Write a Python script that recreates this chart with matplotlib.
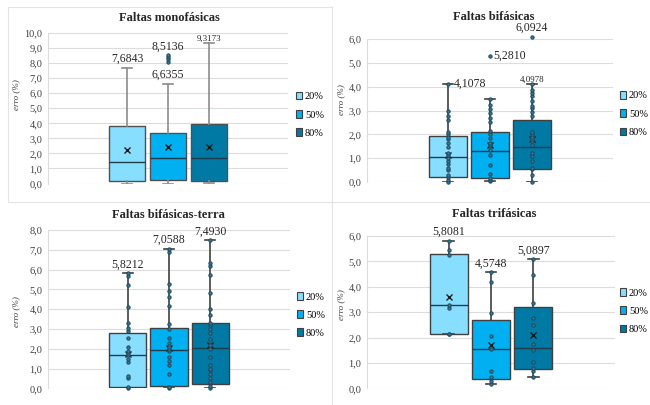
import matplotlib.pyplot as plt
from matplotlib.patches import Patch
from matplotlib.lines import Line2D
import numpy as np

plt.rcParams['font.family'] = ['Liberation Serif', 'DejaVu Serif']

series = ['20%', '50%', '80%']
colors = ['#87DEFF', '#00B0F0', '#007AA5']

# --- Faltas monofásicas
mono_lo = [0.0, 0.0, 0.05]
mono_q1 = [0.17, 0.21, 0.19]
mono_med = [1.45, 1.72, 1.72]
mono_q3 = [3.81, 3.34, 3.95]
mono_hi = [7.6843, 6.6355, 9.3173]
mono_mean = [2.25, 2.43, 2.43]
mono_pts = [[], [8.1, 8.25, 8.4, 8.5136], []]

# --- Faltas bifásicas
bif_lo = [0.0, 0.05, 0.0]
bif_q1 = [0.2, 0.15, 0.55]
bif_med = [1.05, 1.3, 1.48]
bif_q3 = [1.95, 2.1, 2.62]
bif_hi = [4.1078, 3.5, 4.0978]
bif_mean = [1.15, 1.55, 1.8]
bif_pts = [
    [0.0, 0.1, 0.2, 0.3, 0.5, 0.6, 0.75, 0.9, 1.0, 1.15, 1.2, 1.45, 1.65,
     1.8, 1.9, 2.0, 2.1, 2.6, 2.75, 3.0, 4.1078],
    [0.05, 0.1, 0.15, 0.35, 0.7, 1.15, 1.35, 1.5, 1.55, 1.65, 1.85, 2.0,
     2.15, 2.5, 2.7, 2.9, 3.05, 3.25, 3.5, 5.281],
    [0.0, 0.3, 0.55, 0.6, 0.9, 1.1, 1.2, 1.55, 1.7, 1.8, 1.9, 2.0, 2.1,
     2.75, 2.95, 3.1, 3.2, 3.4, 3.6, 3.75, 3.85, 4.0978, 6.0924],
]

# --- Faltas bifásicas-terra
bt_lo = [0.0, 0.0, 0.0]
bt_q1 = [0.05, 0.1, 0.2]
bt_med = [1.7, 1.95, 2.05]
bt_q3 = [2.8, 3.05, 3.3]
bt_hi = [5.8212, 7.0588, 7.4930]
bt_mean = [1.75, 2.05, 2.2]
bt_pts = [
    [0.0, 0.05, 0.5, 0.6, 1.35, 1.5, 1.7, 1.8, 1.9, 2.1, 2.55, 2.9, 3.05,
     3.3, 4.1, 5.2, 5.7, 5.8212],
    [0.0, 0.05, 0.7, 1.2, 1.4, 1.6, 1.9, 2.0, 2.1, 2.3, 2.55, 3.0, 3.25,
     4.15, 4.6, 4.9, 5.25, 6.9, 7.0588],
    [0.0, 0.1, 0.3, 0.5, 0.7, 0.9, 1.0, 1.2, 1.6, 2.0, 2.2, 2.5, 2.8, 3.0,
     3.2, 3.3, 3.7, 4.0, 4.8, 5.75, 6.2, 6.35, 7.493],
]

# --- Faltas trifásicas
tri_lo = [2.15, 0.15, 0.45]
tri_q1 = [2.15, 0.38, 0.78]
tri_med = [3.27, 1.53, 1.6]
tri_q3 = [5.3, 2.7, 3.2]
tri_hi = [5.8081, 4.5748, 5.0897]
tri_mean = [3.6, 1.72, 2.1]
tri_pts = [
    [2.15, 2.15, 3.15, 3.3, 5.25, 5.45, 5.8081],
    [0.15, 0.3, 0.45, 0.7, 1.55, 2.05, 2.95, 4.2, 4.5748],
    [0.45, 0.7, 0.8, 1.05, 1.5, 1.75, 2.5, 2.75, 3.35, 4.45, 5.0897],
]

W, H = 650, 405
fig = plt.figure(figsize=(6.5, 4.05), dpi=100)


def px_axes(left, right, bottom, top):
    return fig.add_axes([left / W, 1 - bottom / H, (right - left) / W, (bottom - top) / H])


def fmt(v, d=1):
    return f'{v:.{d}f}'.replace('.', ',')


def draw_panel(ax, lo, q1, med, q3, hi, mean, pts, ymax, title, tpos, ylab_pos,
               leg_pos, wcol='#404040', ecol='#404040'):
    pos = [1, 2, 3]
    stats = [dict(whislo=lo[i], q1=q1[i], med=med[i], q3=q3[i], whishi=hi[i],
                  mean=mean[i], fliers=[]) for i in range(3)]
    bp = ax.bxp(stats, positions=pos, widths=0.9, capwidths=0.25, showmeans=True,
                patch_artist=True, manage_ticks=False,
                boxprops=dict(edgecolor=ecol, linewidth=1.0),
                whiskerprops=dict(color=wcol, linewidth=1.2),
                capprops=dict(color=wcol, linewidth=1.2),
                medianprops=dict(color='#1d3c4c', linewidth=1.0),
                meanprops=dict(marker='x', markeredgecolor='#1a1a1a', markersize=4,
                               markeredgewidth=1.0))
    for patch, c in zip(bp['boxes'], colors):
        patch.set_facecolor(c)
    for p, vals in zip(pos, pts):
        if vals:
            ax.plot(np.full(len(vals), p), vals, 'o', ms=2.4, mfc='#3f7690',
                    mec='#1b4a60', mew=0.7, clip_on=False, zorder=4)
    ax.set_xlim(-0.93, 4.93)
    ax.set_ylim(0, ymax)
    ax.set_yticks(np.arange(0, ymax + 0.01, 1.0))
    ax.set_yticklabels([fmt(t) for t in np.arange(0, ymax + 0.01, 1.0)])
    ax.set_xticks([])
    ax.tick_params(axis='y', length=0, labelsize=7.5, colors='#404040', pad=4)
    ax.yaxis.grid(True, color='#dcdcdc', linewidth=0.8)
    ax.set_axisbelow(True)
    for s in ['top', 'right', 'bottom']:
        ax.spines[s].set_visible(False)
    ax.spines['left'].set_color('#dcdcdc')
    fig.text(tpos[0] / W, 1 - tpos[1] / H, title, ha='center', va='center',
             fontsize=9, fontweight='bold', color='#262626')
    fig.text(ylab_pos[0] / W, 1 - ylab_pos[1] / H, 'erro (%)', rotation=90,
             ha='center', va='center', fontsize=6.5, style='italic', color='#404040')
    handles = [Patch(facecolor=c, edgecolor='#404040', linewidth=0.8) for c in colors]
    fig.legend(handles, series, loc='center left',
               bbox_to_anchor=(leg_pos[0] / W, 1 - leg_pos[1] / H),
               frameon=False, fontsize=7.5, handlelength=0.6, handleheight=0.7,
               handletextpad=0.25, labelspacing=0.85, borderpad=0, borderaxespad=0)
    return ax


def label(ax, x, y, v, dx=0, dy=2, ha='center', va='bottom', size=8.5):
    ax.annotate(fmt(v, 4), (x, y), xytext=(dx, dy), textcoords='offset points',
                ha=ha, va=va, fontsize=size, color='#262626', annotation_clip=False)


# top-left
ax1 = px_axes(48, 288, 183.5, 33)
draw_panel(ax1, mono_lo, mono_q1, mono_med, mono_q3, mono_hi, mono_mean, mono_pts,
           10, 'Faltas monofásicas', (169, 18), (16, 95), (296, 115),
           wcol='#8c8c8c', ecol='#505050')
label(ax1, 1, mono_hi[0], mono_hi[0])
label(ax1, 2, mono_pts[1][-1], mono_pts[1][-1])
label(ax1, 2, mono_hi[1], mono_hi[1])
label(ax1, 3, mono_hi[2], mono_hi[2], dy=0.5, size=6.5)

# top-right
ax2 = px_axes(367, 613, 182, 39)
draw_panel(ax2, bif_lo, bif_q1, bif_med, bif_q3, bif_hi, bif_mean, bif_pts,
           6, 'Faltas bifásicas', (494, 17), (341, 100), (620, 114))
label(ax2, 1, bif_hi[0], bif_hi[0], dx=4, dy=0, ha='left', va='center')
label(ax2, 2, bif_pts[1][-1], bif_pts[1][-1], dx=2, dy=0, ha='left', va='center')
label(ax2, 3, bif_hi[2], bif_hi[2], dy=0.5, size=6.5)
label(ax2, 3, bif_pts[2][-1], bif_pts[2][-1], dy=2)

# bottom-left
ax3 = px_axes(48, 290, 388.3, 230)
draw_panel(ax3, bt_lo, bt_q1, bt_med, bt_q3, bt_hi, bt_mean, bt_pts,
           8, 'Faltas bifásicas-terra', (168, 215), (16, 312), (297, 315))
for i in range(3):
    label(ax3, i + 1, bt_hi[i], bt_hi[i])

# bottom-right
ax4 = px_axes(367, 615, 388.3, 236)
draw_panel(ax4, tri_lo, tri_q1, tri_med, tri_q3, tri_hi, tri_mean, tri_pts,
           6, 'Faltas trifásicas', (494, 214), (341, 305), (620, 311))
for i in range(3):
    label(ax4, i + 1, tri_hi[i], tri_hi[i])

# panel borders
bc = '#e3e3e3'
for xs, ys in [((8, 332), (7, 7)), ((8, 8), (7, 202)), ((8, 650), (202, 202)),
               ((332, 332), (7, 405))]:
    fig.add_artist(Line2D([x / W for x in xs], [1 - y / H for y in ys],
                          color=bc, linewidth=0.8))

fig.savefig('out.png', dpi=100)
